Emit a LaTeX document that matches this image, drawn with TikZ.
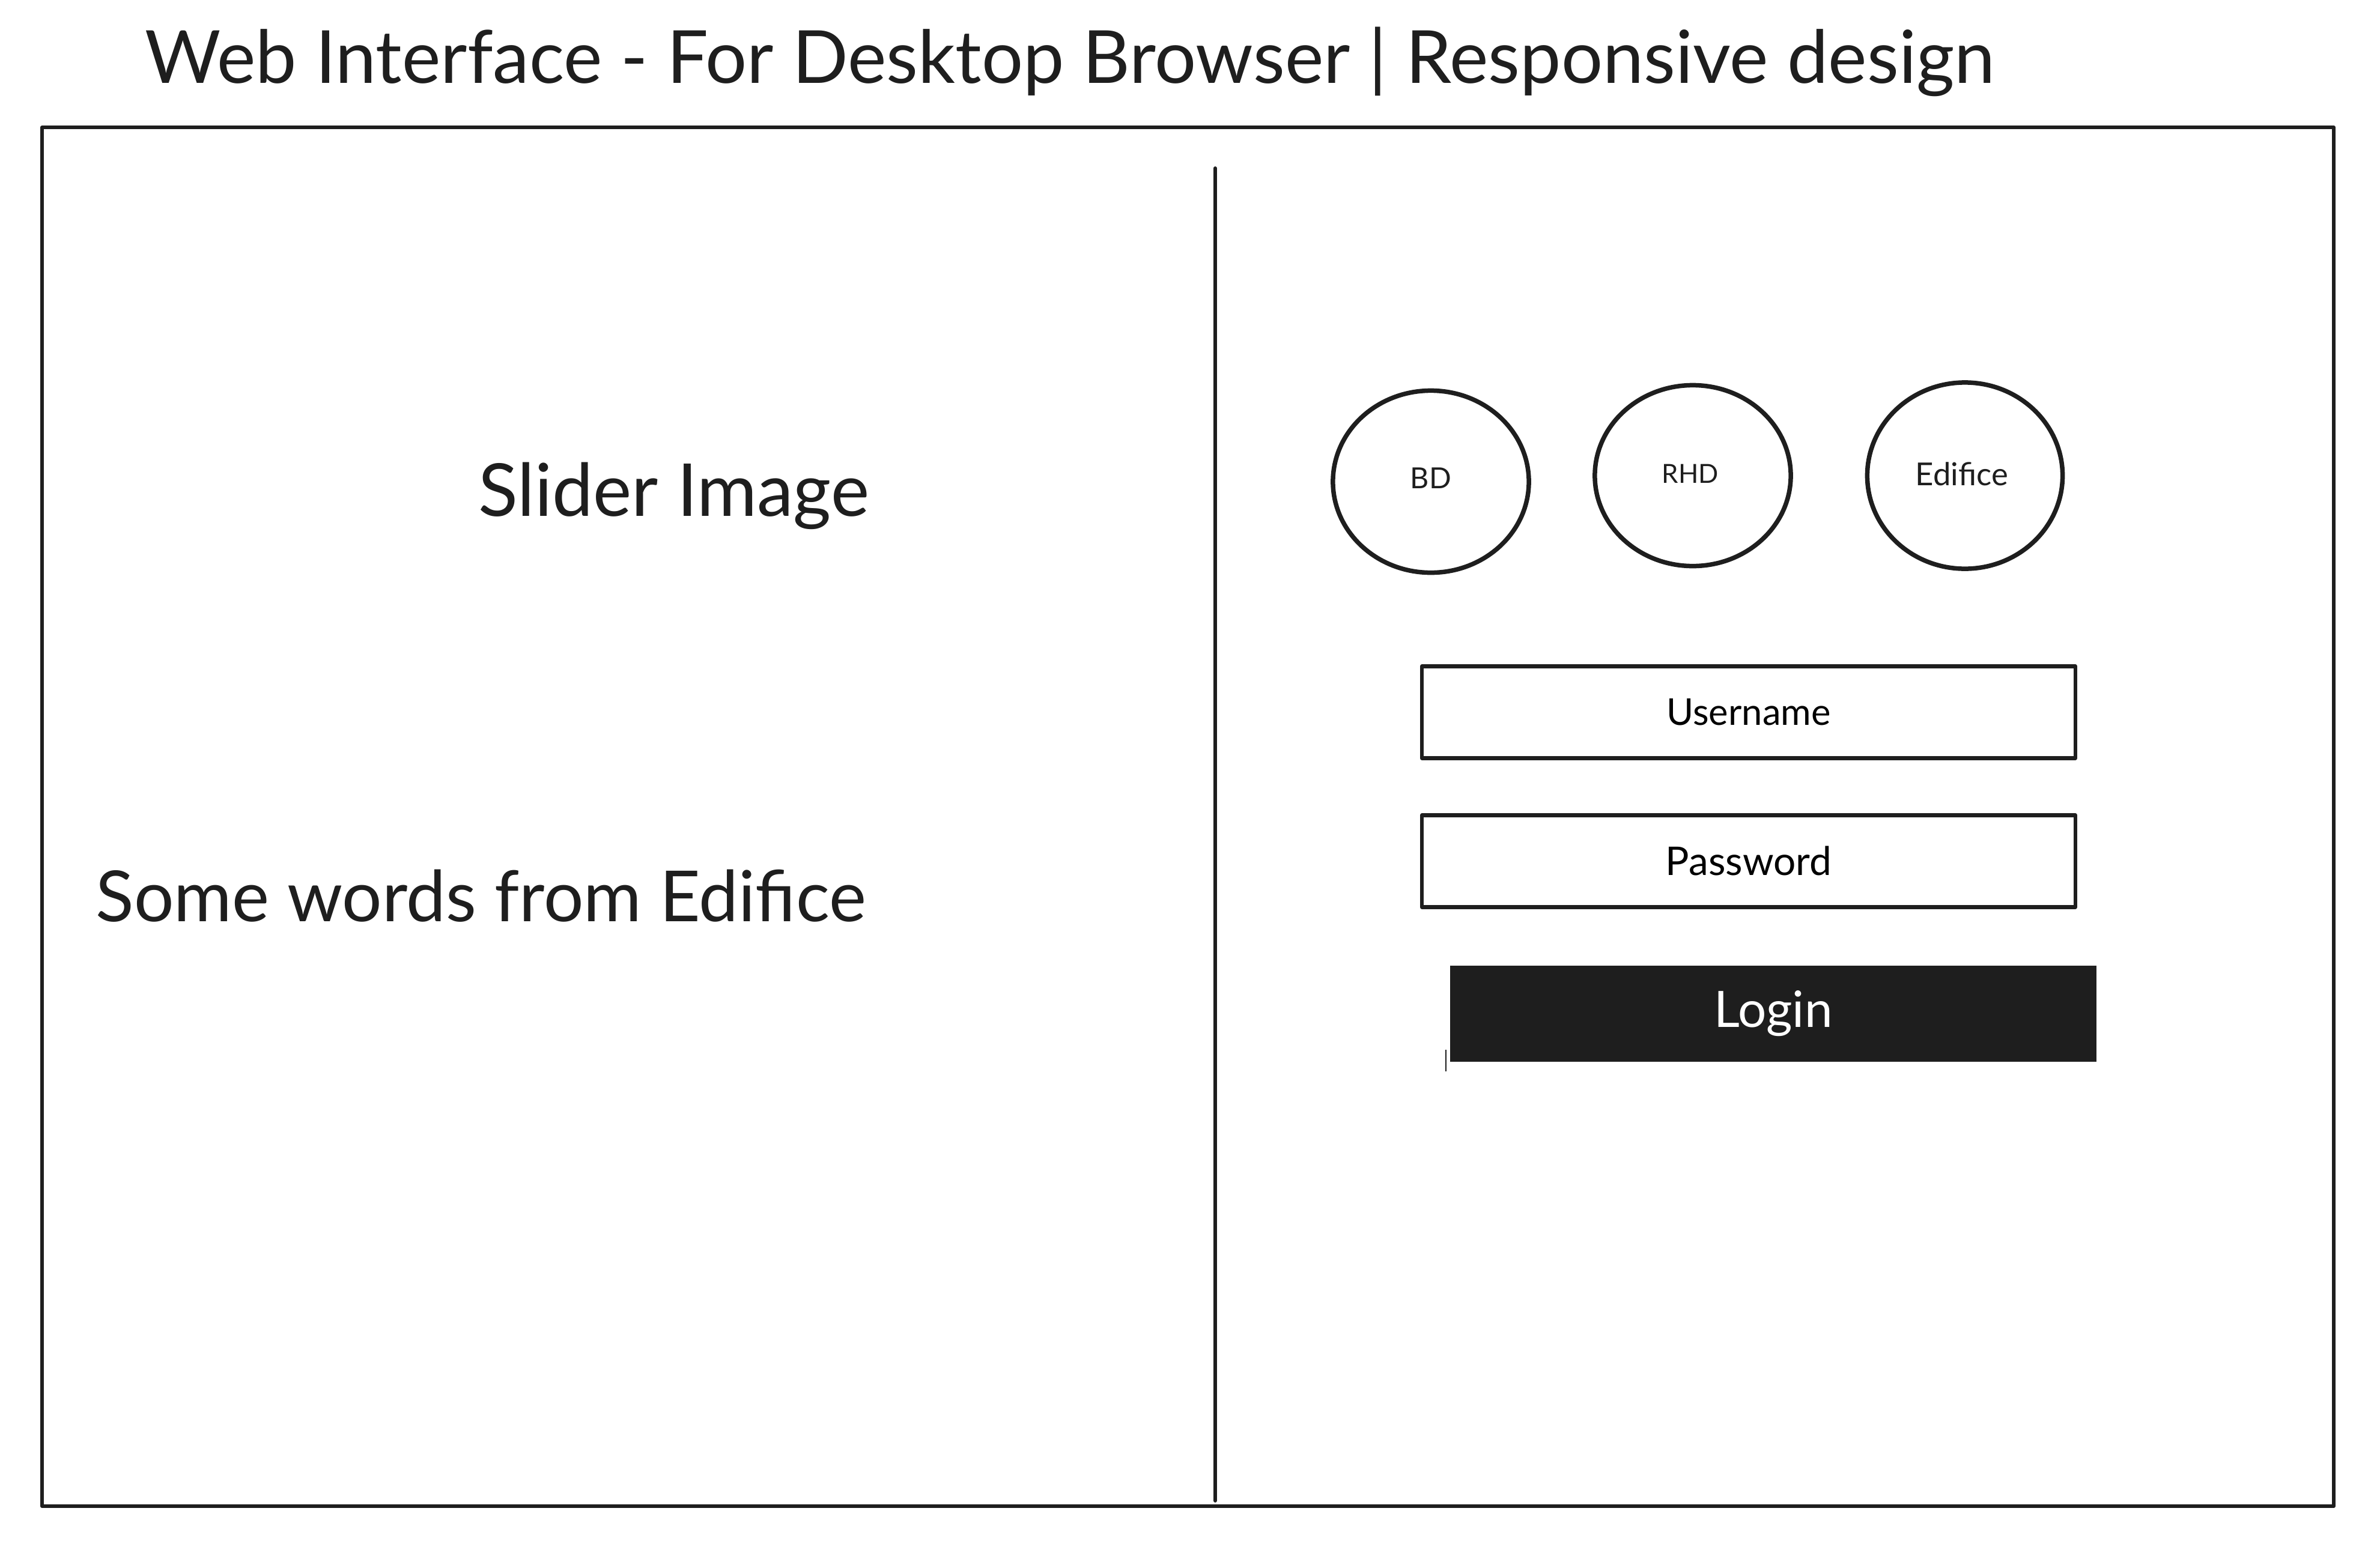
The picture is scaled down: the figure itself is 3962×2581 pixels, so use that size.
\documentclass[tikz,border=0pt]{standalone}
\usepackage{fontspec}
\setmainfont{Lato}
\usetikzlibrary{shapes.geometric}
\definecolor{ink}{HTML}{1E1E1E}
% scale a label to a given width
\newcommand\fitto[2]{\resizebox{#1}{!}{#2}}
\begin{document}
\begin{tikzpicture}[x=0.01cm,y=-0.01cm,
  pen/.style={draw=ink, line width=0.058cm, line cap=round, line join=round},
  bubble/.style={pen, line width=0.075cm, ellipse, inner sep=0pt},
  field/.style={pen, line width=0.065cm, rectangle, inner sep=0pt, minimum width=10.87cm, minimum height=1.53cm},
  button/.style={fill=ink, rectangle, inner sep=0pt, minimum width=10.76cm, minimum height=1.6cm, text=white},
  caption/.style={inner sep=0pt, text=ink}]
\useasboundingbox (0,0) rectangle (3962,2581);

% page frame and column divider
\draw[pen] (70,212) rectangle (3885,2508);
\coordinate (divtop) at (2023,280);
\coordinate (divbot) at (2023,2499);
\draw[pen] (divtop) -- (divbot);

% heading
\node[caption, anchor=base west] (title) at (241,138)
  {\fitto{30.77cm}{Web Interface - For Desktop Browser | Responsive design}};

% left column
\node[caption, anchor=base west] (slider) at (796,859) {\fitto{6.5cm}{Slider Image}};
\node[caption, anchor=base west] (words) at (159,1534) {\fitto{12.81cm}{Some words from Edifice}};

% logos
\node[bubble, minimum width=3.26cm, minimum height=3.03cm] (bd) at (2382,802) {};
\node[caption] (bdt) at (2382,796) {\fitto{0.68cm}{BD}};
\node[bubble, minimum width=3.26cm, minimum height=3.01cm] (rhd) at (2818,792) {};
\node[caption] (rhdt) at (2814,789) {\fitto{0.94cm}{RHD}};
\node[bubble, minimum width=3.25cm, minimum height=3.1cm] (edf) at (3271,792) {};
\node[caption] (edft) at (3266,789) {\fitto{1.54cm}{Edifice}};

% login form
\node[field] (user) at (2911,1186) {\fitto{2.73cm}{Username}};
\node[field] (pass) at (2911,1434) {\fitto{2.76cm}{Password}};
\node[button] (login) at (2952,1688) {\fitto{1.97cm}{Login}};
% small loose stroke at the button's lower left
\coordinate (tick top) at (2407,1748);
\coordinate (tick bot) at (2407,1784);
\draw[draw=ink, line width=0.02cm] (tick top) -- (tick bot);
\end{tikzpicture}
\end{document}
